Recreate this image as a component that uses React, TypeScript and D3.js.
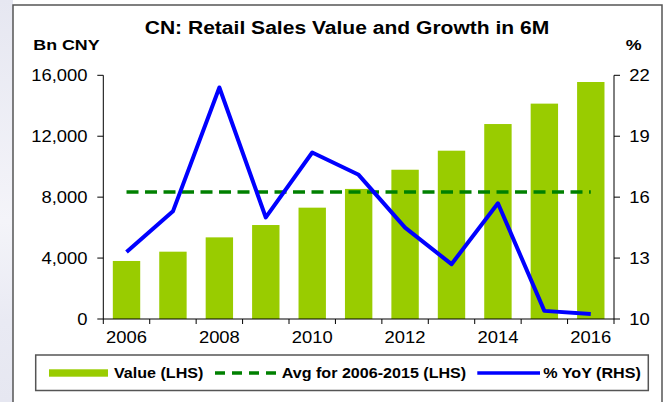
import React from "react";
import * as d3 from "d3";

const years = [2006, 2007, 2008, 2009, 2010, 2011, 2012, 2013, 2014, 2015, 2016];
const values = [3810, 4420, 5360, 6170, 7310, 8540, 9800, 11050, 12800, 14140, 15560];
const avgValue = 8340;
const yoy = [13.3, 15.3, 21.4, 15.0, 18.2, 17.1, 14.5, 12.7, 15.7, 10.4, 10.25];
const leftTicks = [0, 4000, 8000, 12000, 16000];
const rightTicks = [10, 13, 16, 19, 22];
const xLabelYears = [2006, 2008, 2010, 2012, 2014, 2016];
const title = "CN: Retail Sales Value and Growth in 6M";
const legendItems = ["Value (LHS)", "Avg for 2006-2015 (LHS)", "% YoY (RHS)"];

const W = 669;
const H = 402;
const L = 103.3;
const R = 614;
const T = 75.3;
const B = 319;
const SX = 1.15;
const FONT = "'Liberation Sans', Arial, Helvetica, sans-serif";
const BAR = "#99CC00";
const AVG = "#008000";
const LINE = "#0000FF";

function T2({ x, y, anchor = "start", size = 16, bold = false, children }: any) {
  return (
    <text
      transform={`translate(${x},${y}) scale(${SX},1)`}
      textAnchor={anchor}
      fontSize={size}
      fontWeight={bold ? "bold" : "normal"}
      fontFamily={FONT}
      fill="#000"
    >
      {children}
    </text>
  );
}

export default function App() {
  const x = d3.scaleBand<number>().domain(years).range([L, R]).padding(0);
  const step = x.step();
  const bw = step * 0.59;
  const cx = (d: number) => (x(d) as number) + step / 2;
  const yL = d3.scaleLinear().domain([0, 16000]).range([B, T]);
  const yR = d3.scaleLinear().domain([10, 22]).range([B, T]);
  const fmt = d3.format(",");

  const linePath = d3
    .line<number>()
    .x((_, i) => cx(years[i]))
    .y((d) => yR(d))(yoy) as string;

  const avgPath = d3
    .line<number>()
    .x((d) => cx(d))
    .y(() => yL(avgValue))(years) as string;

  const boundaries = d3.range(years.length + 1).map((i) => L + i * step);

  return (
    <svg
      width={W}
      height={H}
      style={{ position: "absolute", left: 0, top: 0, display: "block" }}
    >
      <defs>
        <linearGradient id="bgGrad" x1="0" y1="0" x2="0" y2="1">
          <stop offset="0" stopColor="#e6e7f1" />
          <stop offset="0.55" stopColor="#f4f4f9" />
          <stop offset="0.8" stopColor="#e9eaf3" />
          <stop offset="1" stopColor="#e6e7f1" />
        </linearGradient>
      </defs>
      <rect x={0} y={0} width={W} height={H} fill="#fff" />
      <rect x={0} y={0} width={13} height={H} fill="url(#bgGrad)" />
      <rect x={13} y={5} width={649} height={H + 10} fill="#fff" stroke="#555" strokeWidth={1.5} />

      {/* title */}
      <T2 x={347} y={33.5} anchor="middle" size={18.3} bold>
        {title}
      </T2>
      <T2 x={33.3} y={50} size={15.5} bold>
        Bn CNY
      </T2>
      <T2 x={625.7} y={50} size={15.5} bold>
        %
      </T2>

      {/* bars */}
      {years.map((yr, i) => (
        <rect
          key={yr}
          x={cx(yr) - bw / 2}
          y={yL(values[i])}
          width={bw}
          height={B - yL(values[i])}
          fill={BAR}
        />
      ))}

      {/* avg line */}
      <path d={avgPath} fill="none" stroke={AVG} strokeWidth={3.5} strokeDasharray="12 6.5" />

      {/* yoy line */}
      <path d={linePath} fill="none" stroke={LINE} strokeWidth={4} strokeLinejoin="round" />

      {/* axes */}
      <g stroke="#000" strokeWidth={1}>
        <line x1={L} y1={T} x2={L} y2={B} />
        <line x1={R} y1={T} x2={R} y2={B} />
        <line x1={L} y1={B} x2={R} y2={B} />
        {leftTicks.map((t) => (
          <line key={"lt" + t} x1={L - 6} y1={yL(t)} x2={L} y2={yL(t)} />
        ))}
        {rightTicks.map((t) => (
          <line key={"rt" + t} x1={R} y1={yR(t)} x2={R + 6} y2={yR(t)} />
        ))}
        {boundaries.map((b, i) => (
          <line key={"bt" + i} x1={b} y1={B} x2={b} y2={B + 5} />
        ))}
      </g>
      {leftTicks.map((t) => (
        <T2 key={"ll" + t} x={87.5} y={yL(t) + 5.8} anchor="end">
          {fmt(t)}
        </T2>
      ))}
      {rightTicks.map((t) => (
        <T2 key={"rl" + t} x={629.3} y={yR(t) + 5.8}>
          {t}
        </T2>
      ))}
      {xLabelYears.map((yr) => (
        <T2 key={"xl" + yr} x={cx(yr)} y={343.2} anchor="middle">
          {yr}
        </T2>
      ))}

      {/* legend */}
      <rect x={35.7} y={355} width={612.6} height={35.5} fill="#fff" stroke="#555" strokeWidth={1.5} />
      <rect x={49} y={369.3} width={59} height={7.4} fill={BAR} />
      <T2 x={114} y={378} size={14} bold>
        {legendItems[0]}
      </T2>
      <line x1={215} y1={373} x2={276} y2={373} stroke={AVG} strokeWidth={3.5} strokeDasharray="10 7" />
      <T2 x={281.7} y={378} size={14} bold>
        {legendItems[1]}
      </T2>
      <line x1={477.3} y1={373} x2={540} y2={373} stroke={LINE} strokeWidth={3.5} />
      <T2 x={543.3} y={378} size={14} bold>
        {legendItems[2]}
      </T2>
    </svg>
  );
}
